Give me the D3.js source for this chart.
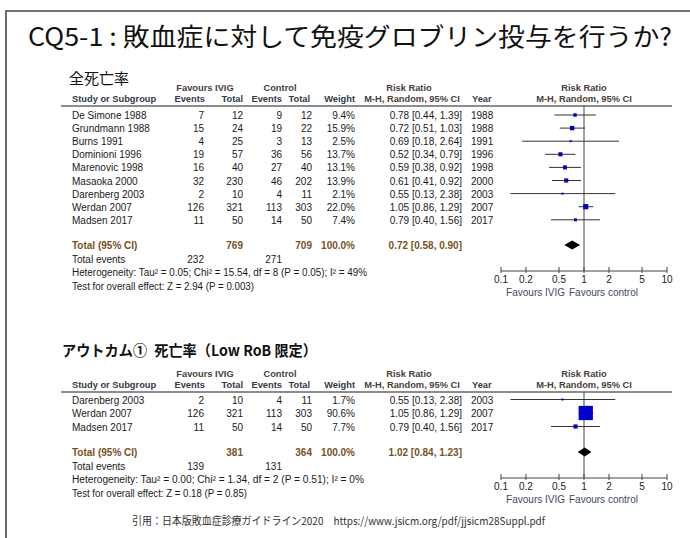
<!DOCTYPE html>
<html><head><meta charset="utf-8">
<script src="https://cdn.jsdelivr.net/npm/d3@7"></script>
<style>
html,body{margin:0;padding:0;background:#fff;}
svg{display:block;}
text{font-family:"Liberation Sans",Arial,sans-serif;}
.cjk{font-family:"Noto Sans CJK JP",sans-serif;}
</style></head>
<body>
<svg id="chart" width="690" height="538"></svg>
<script>
// ---- Data ----
const titleText = "CQ5-1 : 敗血症に対して免疫グロブリン投与を行うか?";
const footerText = "引用：日本版敗血症診療ガイドライン2020　https://www.jsicm.org/pdf/jjsicm28Suppl.pdf";
const tickValues = [0.1, 0.2, 0.5, 1, 2, 5, 10];
const tickLabels = ["0.1", "0.2", "0.5", "1", "2", "5", "10"];

// Panel 1: all-cause mortality
const heading1 = "全死亡率";
const studies1 = ["De Simone 1988","Grundmann 1988","Burns 1991","Dominioni 1996","Marenovic 1998","Masaoka 2000","Darenberg 2003","Werdan 2007","Madsen 2017"];
const ivigEvents1 = [7,15,4,19,16,32,2,126,11];
const ivigTotal1  = [12,24,25,57,40,230,10,321,50];
const ctrlEvents1 = [9,19,3,36,27,46,4,113,14];
const ctrlTotal1  = [12,22,13,56,40,202,11,303,50];
const weight1 = [9.4,15.9,2.5,13.7,13.1,13.9,2.1,22.0,7.4];
const rr1 = [0.78,0.72,0.69,0.52,0.59,0.61,0.55,1.05,0.79];
const lo1 = [0.44,0.51,0.18,0.34,0.38,0.41,0.13,0.86,0.40];
const hi1 = [1.39,1.03,2.64,0.79,0.92,0.92,2.38,1.29,1.56];
const year1 = [1988,1988,1991,1996,1998,2000,2003,2007,2017];
const pooled1 = [0.72, 0.58, 0.90];           // RR, lower, upper
const totals1 = [769, 709, 232, 271];          // IVIG total, control total, IVIG events, control events
const het1 = "Heterogeneity: Tau² = 0.05; Chi² = 15.54, df = 8 (P = 0.05); I² = 49%";
const test1 = "Test for overall effect: Z = 2.94 (P = 0.003)";

// Panel 2: mortality (Low RoB)
const heading2 = "アウトカム①\u2002死亡率（Low RoB 限定）";
const studies2 = ["Darenberg 2003","Werdan 2007","Madsen 2017"];
const ivigEvents2 = [2,126,11];
const ivigTotal2  = [10,321,50];
const ctrlEvents2 = [4,113,14];
const ctrlTotal2  = [11,303,50];
const weight2 = [1.7,90.6,7.7];
const rr2 = [0.55,1.05,0.79];
const lo2 = [0.13,0.86,0.40];
const hi2 = [2.38,1.29,1.56];
const year2 = [2003,2007,2017];
const pooled2 = [1.02, 0.84, 1.23];
const totals2 = [381, 364, 139, 131];
const het2 = "Heterogeneity: Tau² = 0.00; Chi² = 1.34, df = 2 (P = 0.51); I² = 0%";
const test2 = "Test for overall effect: Z = 0.18 (P = 0.85)";

// ---- Drawing ----
const svg = d3.select("#chart");
const HEAD = "#333a46", TOT = "#7a5222", TXT = "#1a1a1a", BLUE = "#0000c8";

// frame
svg.append("path").attr("d","M6,540 L6,11 L692,11").attr("fill","none")
  .attr("stroke","#454545").attr("stroke-width",1.6);

// title
svg.append("text").attr("class","cjk").attr("x",28).attr("y",46)
  .attr("font-size",25).attr("fill","#111")
  .attr("textLength",644).attr("lengthAdjust","spacingAndGlyphs")
  .text(titleText);

// footer
svg.append("text").attr("class","cjk").attr("x",132).attr("y",525)
  .attr("font-size",11).attr("fill","#333")
  .attr("textLength",413).attr("lengthAdjust","spacingAndGlyphs")
  .text(footerText);

const x = d3.scaleLog().domain([0.1,10]).range([501,667]);
const fmt2 = d3.format(".2f"), fmt1 = d3.format(".1f");
const ciText = (r,l,h) => `${fmt2(r)} [${fmt2(l)}, ${fmt2(h)}]`;

function drawPanel(p) {
  const g = svg.append("g");
  // heading
  const hd = g.append("text").attr("class","cjk").attr("x",p.headX).attr("y",p.headY)
    .attr("font-size",15).attr("font-weight",p.headBold?700:400).attr("fill","#111")
    .text(p.heading);
  if (p.headLen) hd.attr("textLength",p.headLen).attr("lengthAdjust","spacingAndGlyphs");

  const h1 = p.lineY - 15, h2 = p.lineY - 4;
  const hdr = (t,xx,yy,anchor,col) => g.append("text").attr("x",xx).attr("y",yy)
    .attr("text-anchor",anchor).attr("font-size",9.3).attr("font-weight",700)
    .attr("fill",col||HEAD).text(t);
  hdr("Favours IVIG",205,h1,"middle","#4a4038");
  hdr("Control",280,h1,"middle","#4a4038");
  hdr("Risk Ratio",409,h1,"middle","#4a4038");
  hdr("Risk Ratio",584,h1,"middle","#4a4038");
  hdr("Study or Subgroup",72,h2,"start");
  hdr("Events",205,h2,"end");
  hdr("Total",243,h2,"end");
  hdr("Events",282,h2,"end");
  hdr("Total",310,h2,"end");
  hdr("Weight",355,h2,"end");
  hdr("M-H, Random, 95% CI",412,h2,"middle","#4a4038");
  hdr("Year",472,h2,"start");
  hdr("M-H, Random, 95% CI",584,h2,"middle","#4a4038");

  g.append("line").attr("x1",61).attr("x2",672).attr("y1",p.lineY).attr("y2",p.lineY)
    .attr("stroke","#666").attr("stroke-width",1.3);

  const n = p.studies.length;
  const rowY = i => p.row0 + i*p.step;   // baseline
  const cell = (t,xx,yy,anchor,opts={}) => g.append("text").attr("x",xx).attr("y",yy)
    .attr("text-anchor",anchor).attr("font-size",10)
    .attr("font-weight",opts.bold?700:400).attr("fill",opts.col||TXT).text(t);

  d3.range(n).forEach(i => {
    const y = rowY(i);
    cell(p.studies[i],72,y,"start");
    cell(p.ie[i],204,y,"end");
    cell(p.it[i],243,y,"end");
    cell(p.ce[i],282,y,"end");
    cell(p.ct[i],312,y,"end");
    cell(fmt1(p.w[i])+"%",355,y,"end");
    cell(ciText(p.rr[i],p.lo[i],p.hi[i]),462,y,"end");
    cell(p.yr[i],471,y,"start");
  });

  // totals
  const ty = p.totY;
  cell("Total (95% CI)",72,ty,"start",{bold:true,col:TOT});
  cell(p.totals[0],243,ty,"end",{bold:true,col:TOT});
  cell(p.totals[1],312,ty,"end",{bold:true,col:TOT});
  cell("100.0%",355,ty,"end",{bold:true,col:TOT});
  cell(ciText(...p.pooled),462,ty,"end",{bold:true,col:TOT});
  cell("Total events",72,ty+13.5,"start");
  cell(p.totals[2],204,ty+13.5,"end");
  cell(p.totals[3],282,ty+13.5,"end");
  g.append("text").attr("x",72).attr("y",ty+27).attr("font-size",10).attr("fill",TXT)
    .attr("textLength",p.hetLen).attr("lengthAdjust","spacingAndGlyphs").text(p.het);
  g.append("text").attr("x",72).attr("y",ty+40.5).attr("font-size",10).attr("fill",TXT)
    .attr("textLength",p.testLen).attr("lengthAdjust","spacingAndGlyphs").text(p.test);

  // forest plot
  g.append("line").attr("x1",x(1)).attr("x2",x(1)).attr("y1",p.lineY).attr("y2",p.axisY)
    .attr("stroke","#444").attr("stroke-width",1);
  const size = d3.scaleSqrt().domain([0,100]).range([0,p.boxMax]);
  d3.range(n).forEach(i => {
    const cy = rowY(i) - 4;
    g.append("line").attr("x1",x(p.lo[i])).attr("x2",x(p.hi[i])).attr("y1",cy).attr("y2",cy)
      .attr("stroke","#333").attr("stroke-width",1);
    const s = Math.max(2, size(p.w[i]));
    g.append("rect").attr("x",x(p.rr[i])-s/2).attr("y",cy-s/2).attr("width",s).attr("height",s)
      .attr("fill",BLUE);
  });
  const dy = ty - 4;
  g.append("path").attr("d",`M${x(p.pooled[1])},${dy} L${x(p.pooled[0])},${dy-4.5} L${x(p.pooled[2])},${dy} L${x(p.pooled[0])},${dy+4.5} Z`)
    .attr("fill","#000");

  // axis
  const ax = g.append("g").attr("transform",`translate(0,${p.axisY})`);
  ax.append("line").attr("x1",x(0.1)).attr("x2",x(10)).attr("stroke","#444").attr("stroke-width",1);
  ax.selectAll("line.tk").data(tickValues).join("line").attr("class","tk")
    .attr("x1",d=>x(d)).attr("x2",d=>x(d)).attr("y1",-4).attr("y2",2)
    .attr("stroke","#444").attr("stroke-width",1);
  ax.selectAll("text.tl").data(tickValues).join("text").attr("class","tl")
    .attr("x",d=>x(d)).attr("y",12).attr("text-anchor","middle").attr("font-size",10)
    .attr("fill","#222").text((d,i)=>tickLabels[i]);
  ax.append("text").attr("x",565).attr("y",24.5).attr("text-anchor","end")
    .attr("font-size",10).attr("fill","#3d4a66").text("Favours IVIG");
  ax.append("text").attr("x",569).attr("y",24.5).attr("text-anchor","start")
    .attr("font-size",10).attr("fill","#3d4a66").text("Favours control");
}

drawPanel({heading:heading1, headX:69, headY:84, headBold:false,
  lineY:106, row0:119, step:13.1, totY:249, axisY:271, boxMax:11, hetLen:295, testLen:182,
  studies:studies1, ie:ivigEvents1, it:ivigTotal1, ce:ctrlEvents1, ct:ctrlTotal1,
  w:weight1, rr:rr1, lo:lo1, hi:hi1, yr:year1, pooled:pooled1, totals:totals1, het:het1, test:test1});

drawPanel({heading:heading2, headX:62, headY:356, headBold:true, headLen:255,
  lineY:392, row0:403.5, step:13.5, totY:456, axisY:478, boxMax:15, hetLen:292, testLen:175,
  studies:studies2, ie:ivigEvents2, it:ivigTotal2, ce:ctrlEvents2, ct:ctrlTotal2,
  w:weight2, rr:rr2, lo:lo2, hi:hi2, yr:year2, pooled:pooled2, totals:totals2, het:het2, test:test2});
</script>
</body></html>
